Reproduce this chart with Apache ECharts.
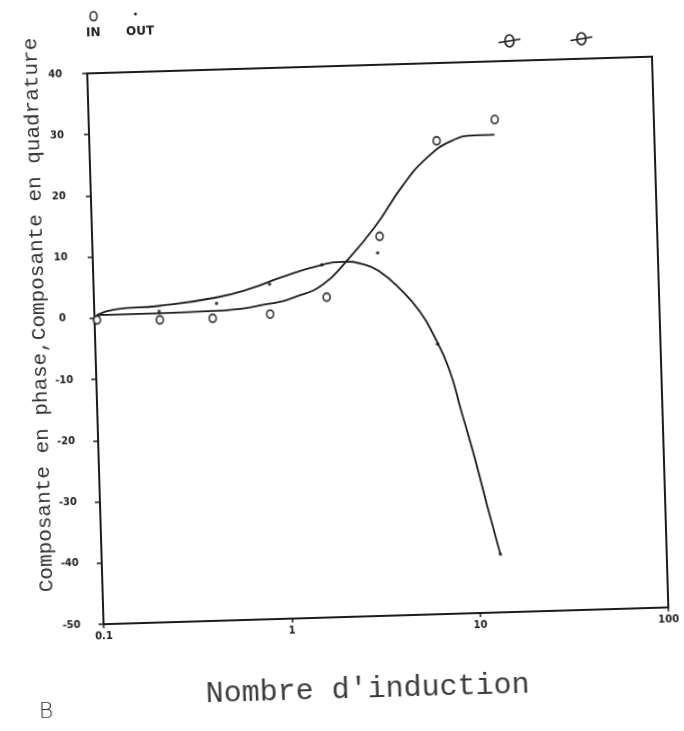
<!DOCTYPE html>
<html>
<head>
<meta charset="utf-8">
<script src="https://cdn.jsdelivr.net/npm/echarts@6/dist/echarts.min.js"></script>
<style>
  html, body { margin: 0; padding: 0; background: #fff; }
  #chart {
    width: 684px; height: 731px;
    transform: rotate(-1.7deg);
    transform-origin: 342px 365.5px;
  }
</style>
</head>
<body>
<div id="chart"></div>
<script>
// In-phase component (open circles) and its fitted curve
const inX = [0.103, 0.222, 0.424, 0.857, 1.72, 3.36, 6.98, 14.3];
const inY = [-0.3, -0.6, -0.6, -0.2, 2.3, 12.0, 27.3, 30.5];
const inCurveX = [0.103, 0.223, 0.425, 0.85, 1.2, 1.65, 2.19, 3.17, 4.52, 6.12, 8.33, 11.2, 14.2];
const inCurveY = [0.5, 0.5, 0.6, 1.5, 2.6, 4.4, 7.9, 13.5, 20.1, 24.5, 27.2, 28.0, 28.0];

// Quadrature component (dots) and its fitted curve
const outX = [0.221, 0.447, 0.86, 1.64, 3.26, 6.55, 13.1];
const outY = [0.8, 1.8, 4.7, 7.6, 9.3, -5.9, -40.5];
const outCurveX = [0.103, 0.13, 0.221, 0.447, 0.70, 1.0, 1.64, 2.19, 2.65, 3.28, 4.35, 5.35, 6.25, 7.46, 8.55, 9.9, 11.4, 13.1];
const outCurveY = [0.5, 1.35, 1.7, 2.8, 4.2, 5.8, 7.6, 8.0, 7.6, 6.35, 2.9, -0.5, -4.3, -9.9, -16.9, -24.6, -32.8, -40.5];

// Axis tick labels
const xTickValues = [0.1, 1, 10, 100];
const xTickLabels = ['0.1', '1', '10', '100'];
const yTickLabels = ['-50', '-40', '-30', '-20', '-10', '0', '10', '20', '30', '40'];

const zip = (xs, ys) => xs.map((x, i) => [x, ys[i]]);
const ink = '#1c1c1c';
const tickFont = { fontFamily: 'DejaVu Sans', fontSize: 10, fontWeight: 'bold', color: '#222' };

// Crossed-circle mark drawn above the frame
function crossedCircle(x, y) {
  return {
    type: 'group', x: x, y: y,
    children: [
      { type: 'ellipse', shape: { cx: 0, cy: 0, rx: 4.5, ry: 6 },
        style: { fill: 'none', stroke: ink, lineWidth: 1.6 } },
      { type: 'line', shape: { x1: -11, y1: 1.5, x2: 11, y2: -1.5 },
        style: { stroke: ink, lineWidth: 1.6 } }
    ]
  };
}

const chart = echarts.init(document.getElementById('chart'), null, { renderer: 'canvas' });
chart.setOption({
  backgroundColor: '#fff',
  animation: false,
  grid: {
    left: 96, right: 23, top: 66, bottom: 114,
    show: true, borderColor: ink, borderWidth: 2, backgroundColor: 'transparent'
  },
  xAxis: {
    type: 'log', logBase: 10, min: 0.1, max: 100,
    axisLine: { show: true, onZero: false, lineStyle: { color: ink, width: 2 } },
    axisTick: { show: true, inside: false, length: 4, lineStyle: { color: ink, width: 1.5 } },
    minorTick: { show: false },
    splitLine: { show: false },
    axisLabel: Object.assign({}, tickFont, {
      margin: 7,
      formatter: v => {
        const i = xTickValues.findIndex(t => Math.abs(Math.log10(t) - Math.log10(v)) < 1e-6);
        return i >= 0 ? xTickLabels[i] : '';
      }
    })
  },
  yAxis: {
    type: 'value', min: -50, max: 40, interval: 10,
    axisLine: { show: true, onZero: false, lineStyle: { color: ink, width: 2 } },
    axisTick: { show: true, inside: false, length: 5, lineStyle: { color: ink, width: 1.5 } },
    splitLine: { show: false },
    axisLabel: Object.assign({}, tickFont, {
      margin: 32, align: 'center',
      formatter: v => yTickLabels[Math.round((v + 50) / 10)]
    })
  },
  series: [
    {
      name: 'IN fit', type: 'line', data: zip(inCurveX, inCurveY),
      smooth: 0.5, showSymbol: false, symbol: 'none',
      lineStyle: { color: ink, width: 1.8 }
    },
    {
      name: 'OUT fit', type: 'line', data: zip(outCurveX, outCurveY),
      smooth: 0.5, showSymbol: false, symbol: 'none',
      lineStyle: { color: ink, width: 1.8 }
    },
    {
      name: 'IN', type: 'scatter', data: zip(inX, inY), z: 5,
      symbol: 'circle', symbolSize: [7, 8],
      itemStyle: { color: '#fff', borderColor: '#111', borderWidth: 1.8 }
    },
    {
      name: 'OUT', type: 'scatter', data: zip(outX, outY), z: 5,
      symbol: 'circle', symbolSize: 3.5,
      itemStyle: { color: '#111' }
    }
  ],
  graphic: [
    // legend: symbols above their labels
    { type: 'ellipse', shape: { cx: 104, cy: 9, rx: 3.5, ry: 4.5 },
      style: { fill: 'none', stroke: '#222', lineWidth: 1.5 } },
    { type: 'text', left: 96, top: 20,
      style: { text: 'IN', fontFamily: 'DejaVu Sans', fontSize: 12, fontWeight: 'bold', fill: '#222' } },
    { type: 'circle', shape: { cx: 146, cy: 8, r: 1.5 }, style: { fill: '#222' } },
    { type: 'text', left: 136, top: 20,
      style: { text: 'OUT', fontFamily: 'DejaVu Sans', fontSize: 12, fontWeight: 'bold', fill: '#222' } },
    crossedCircle(519, 46),
    crossedCircle(591, 46),
    // y-axis title
    { type: 'text', x: 40, y: 306, rotation: Math.PI / 2,
      style: { text: 'Composante en phase,Composante en quadrature',
        fontFamily: 'Liberation Mono', fontSize: 21, fill: '#333',
        align: 'center', verticalAlign: 'middle' } },
    // x-axis title
    { type: 'text', x: 358, y: 690,
      style: { text: "Nombre d'induction", fontFamily: 'Liberation Mono', fontSize: 30,
        fill: '#3a3a3a', align: 'center', verticalAlign: 'middle' } },
    // panel letter
    { type: 'text', x: 36, y: 703,
      style: { text: 'B', fontFamily: 'DejaVu Sans', fontSize: 22, fontWeight: 'lighter', fill: '#333',
        align: 'center', verticalAlign: 'middle' } }
  ]
});
</script>
</body>
</html>
